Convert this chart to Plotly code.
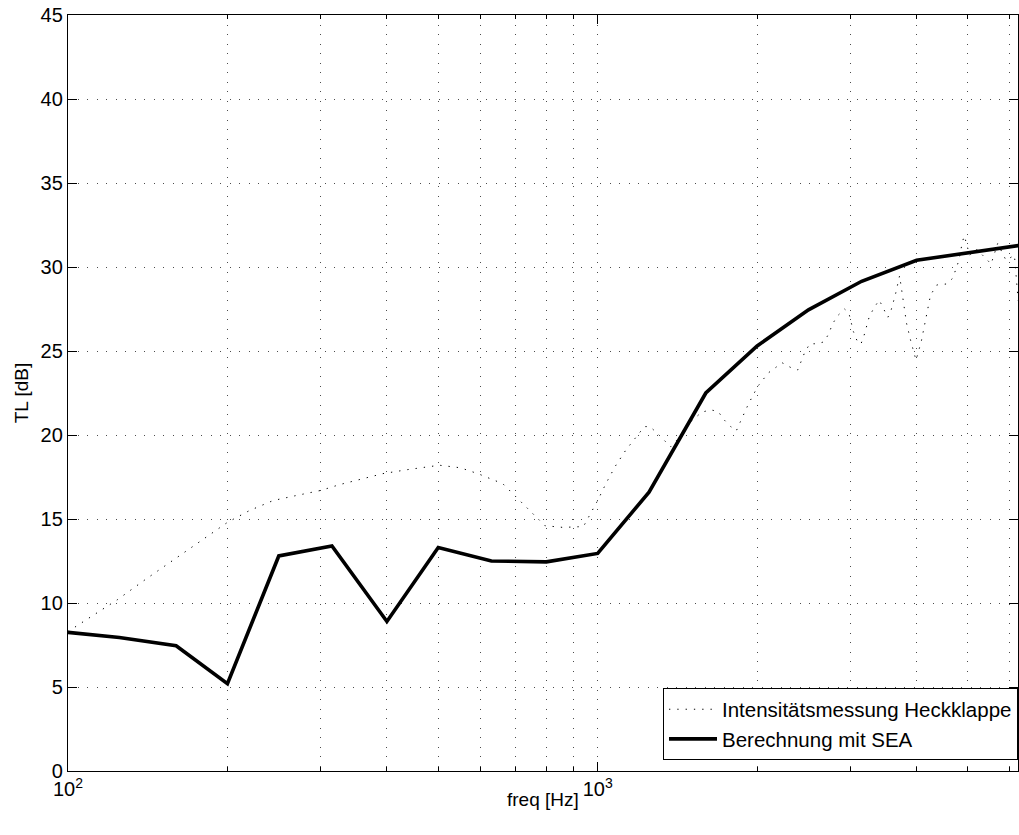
import plotly.graph_objects as go

# Third-octave band centre frequencies and SEA-predicted transmission loss
sea_freq = [100, 125, 160, 200, 250, 315, 400, 500, 630, 800, 1000,
            1250, 1600, 2000, 2500, 3150, 4000, 5000, 6300]
sea_tl = [8.25, 7.95, 7.45, 5.2, 12.8, 13.4, 8.9, 13.3, 12.5, 12.45, 12.95,
          16.6, 22.5, 25.3, 27.45, 29.15, 30.4, 30.85, 31.3]

# Intensity measurement on the tailgate (fine frequency resolution)
meas_freq = [100, 112, 124, 140, 163, 180, 200, 220, 244, 270, 300, 326, 360,
             393, 440, 503, 550, 594, 662, 708, 750, 795, 860, 940, 980, 1000,
             1036, 1080, 1130, 1190, 1225, 1255, 1296, 1373, 1411, 1445, 1500,
             1570, 1633, 1688, 1733, 1783, 1827, 1860, 1926, 2006, 2100, 2230,
             2320, 2386, 2421, 2458, 2514, 2600, 2676, 2733, 2774, 2838, 2926,
             2980, 3040, 3084, 3139, 3185, 3256, 3328, 3401, 3462, 3530, 3581,
             3650, 3715, 3755, 3829, 3903, 3990, 4081, 4206, 4250, 4367, 4553,
             4680, 4806, 4882, 4920, 4981, 5030, 5200, 5408, 5530, 5690, 5900,
             6120, 6170, 6220]
meas_tl = [8.3, 9.3, 10.2, 11.4, 12.85, 13.8, 14.8, 15.5, 16.1, 16.4, 16.7,
           17.05, 17.4, 17.7, 17.95, 18.2, 18.05, 17.7, 17.1, 16.2, 15.4, 14.6,
           14.5, 14.55, 15.6, 16.1, 17.1, 18.15, 19.1, 20.0, 20.5, 20.5, 20.1,
           19.3, 19.7, 20.15, 20.8, 21.35, 21.5, 21.4, 20.9, 20.5, 20.25, 20.8,
           21.85, 22.9, 23.7, 24.3, 24.0, 23.87, 24.4, 24.9, 25.43, 25.43,
           25.55, 26.05, 26.6, 27.1, 27.5, 27.25, 26.15, 25.65, 25.4, 25.95,
           27.04, 27.6, 28.03, 27.54, 27.0, 27.44, 28.39, 29.48, 28.37, 26.65,
           25.55, 24.46, 25.55, 27.8, 28.33, 28.93, 28.99, 29.33, 30.38, 31.5,
           31.85, 31.3, 30.7, 31.05, 30.48, 30.18, 31.4, 30.4, 30.7, 29.5, 28.0]

x_major = [100, 1000]
x_major_text = ["10<sup>2</sup>", "10<sup>3</sup>"]
x_minor = [200, 300, 400, 500, 600, 700, 800, 900,
           2000, 3000, 4000, 5000, 6000]
y_ticks = [0, 5, 10, 15, 20, 25, 30, 35, 40, 45]

FONT = "Liberation Sans, Arial, Helvetica, sans-serif"
GRID_DASH = "1px,8.5px"
GRID_COLOR = "rgba(0,0,0,0.7)"

fig = go.Figure()
fig.add_trace(go.Scatter(
    x=meas_freq, y=meas_tl, mode="lines",
    name="Intensitätsmessung Heckklappe",
    line=dict(color="black", width=1, dash="1.3px,7px"),
))
fig.add_trace(go.Scatter(
    x=sea_freq, y=sea_tl, mode="lines",
    name="Berechnung mit SEA",
    line=dict(color="black", width=3.6),
))

fig.update_layout(
    width=1019, height=835,
    margin=dict(l=68, r=1, t=15, b=64),
    paper_bgcolor="white", plot_bgcolor="white",
    font=dict(family=FONT, size=20, color="black"),
    showlegend=True,
    legend=dict(
        x=1, xanchor="right", y=0.014, yanchor="bottom",
        bgcolor="white", bordercolor="black", borderwidth=1,
        font=dict(size=20.5), tracegroupgap=0, itemwidth=48,
        entrywidth=312, entrywidthmode="pixels",
    ),
    xaxis=dict(
        type="log", range=[2, 3.7935],
        tickmode="array", tickvals=x_major, ticktext=x_major_text,
        ticks="inside", ticklen=9, tickcolor="black", tickwidth=1,
        showline=True, linecolor="black", linewidth=1.3, mirror="allticks",
        showgrid=True, gridcolor=GRID_COLOR, gridwidth=1, griddash=GRID_DASH,
        minor=dict(tickmode="array", tickvals=x_minor, ticks="inside",
                   ticklen=4, tickcolor="black", showgrid=True,
                   gridcolor=GRID_COLOR, gridwidth=1, griddash=GRID_DASH),
        zeroline=False,
    ),
    yaxis=dict(
        range=[0, 45], tickmode="array", tickvals=y_ticks,
        ticks="inside", ticklen=9, tickcolor="black", tickwidth=1,
        showline=True, linecolor="black", linewidth=1.3, mirror="allticks",
        showgrid=True, gridcolor=GRID_COLOR, gridwidth=1, griddash=GRID_DASH,
        zeroline=False,
        title=dict(text="TL [dB]", font=dict(size=19), standoff=6),
    ),
    annotations=[dict(
        text="freq [Hz]", xref="paper", yref="paper", x=0.5, y=-0.0375,
        xanchor="center", yanchor="middle", showarrow=False,
        font=dict(size=19),
    )],
)

fig.write_html("out.html")
